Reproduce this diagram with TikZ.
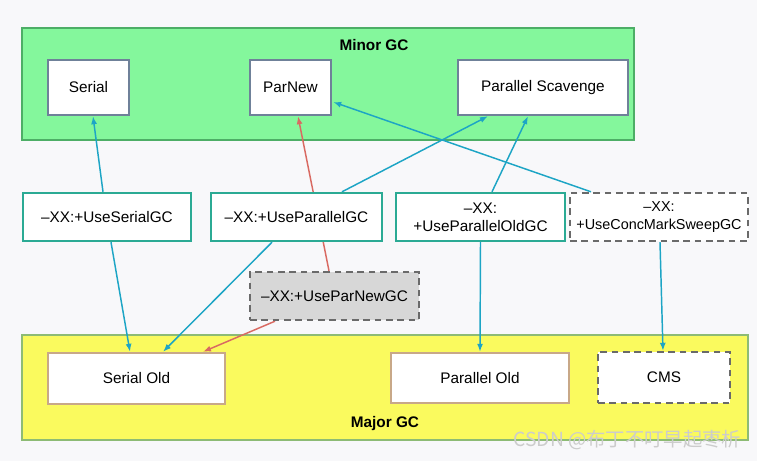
\documentclass[tikz,border=0pt]{standalone}
\usepackage{fontspec}
\setmainfont{Liberation Sans}
\newfontfamily\cjk{Noto Sans CJK SC}
\usetikzlibrary{arrows.meta,fit,calc}
\definecolor{bgc}{HTML}{F8F8FA}
\definecolor{minorfill}{HTML}{84F79C}
\definecolor{minorline}{HTML}{4DAE66}
\definecolor{majorfill}{HTML}{FAFA5E}
\definecolor{majorline}{HTML}{8DBB74}
\definecolor{topline}{HTML}{6F8199}
\definecolor{optline}{HTML}{2BAA94}
\definecolor{botline}{HTML}{C8A888}
\definecolor{dashline}{HTML}{6A6A6A}
\definecolor{pnfill}{HTML}{D7D7D7}
\definecolor{arrblue}{HTML}{1DA5C5}
\definecolor{arrred}{HTML}{D96A62}
\pgfdeclarelayer{bg}
\pgfdeclarelayer{edges}
\pgfsetlayers{bg,edges,main}
\tikzset{
  every node/.style={font=\fontsize{11.5}{13.5}\selectfont},
  region/.style={inner sep=0pt, line width=2.2pt},
  gcbox/.style={fill=white, inner sep=0pt, line width=1.8pt, align=center},
  topbox/.style={gcbox, draw=topline},
  optbox/.style={gcbox, draw=optline},
  botbox/.style={gcbox, draw=botline},
  dashbox/.style={gcbox, draw=dashline, dash pattern=on 5pt off 3.5pt},
  bluearr/.style={draw=arrblue, line width=1.1pt, -{Latex[length=6pt,width=4.5pt]}},
  redarr/.style={draw=arrred, line width=1.1pt, -{Latex[length=6pt,width=4.5pt]}},
  title/.style={font=\fontsize{11.5}{13.5}\selectfont\bfseries}
}
\begin{document}
\begin{tikzpicture}[x=0.75pt,y=-0.75pt]
\begin{pgfonlayer}{bg}
\fill[bgc] (0,0) rectangle (757,461);
\useasboundingbox (0,0) rectangle (757,461);
\node[region, fill=minorfill, draw=minorline, fit={(22,28) (634,140)}] (minor) {};
\node[region, fill=majorfill, draw=majorline, line width=1.8pt, fit={(22,335) (748,440)}] (major) {};
\end{pgfonlayer}
\node[title] (minorlbl) at (374,45) {Minor GC};
\node[title] (majorlbl) at (385,424) {Major GC};

\node[topbox, fit={(48,60) (129,115)}, label=center:Serial] (serial) {};
\node[topbox, fit={(250,60) (331,115)}, label=center:ParNew] (parnew) {};
\node[topbox, fit={(458,60) (628,115)}, label=center:Parallel Scavenge] (ps) {};

\node[optbox, fit={(23,193) (191,241)}, label=center:{–XX:+UseSerialGC}] (sgc) {};
\node[optbox, fit={(211,193) (382,241)}, label=center:{–XX:+UseParallelGC}] (pgc) {};
\node[optbox, fit={(396,193) (565,241)}, label={[align=center]center:{–XX:\\+UseParallelOldGC}}] (pogc) {};
\node[dashbox, fit={(570,193) (748,241)}, label={[align=center,font=\fontsize{10.8}{13.5}\selectfont]center:{–XX:\\+UseConcMarkSweepGC}}] (cmsgc) {};
\node[dashbox, fill=pnfill, fit={(250,272) (419,320)}, label=center:{–XX:+UseParNewGC}] (pngc) {};

\node[botbox, fit={(48,353) (225,404)}, label=center:Serial Old] (serialold) {};
\node[botbox, fit={(391,353) (569,403)}, label=center:Parallel Old] (parold) {};
\node[dashbox, fit={(598,352) (730,403)}, label=center:CMS] (cms) {};

\begin{pgfonlayer}{edges}
\draw[bluearr] ($(sgc.north)+(-4,0)$) -- ($(serial.south)+(4.5,0)$);
\draw[bluearr] ($(sgc.south)+(4,0)$) -- ($(serialold.north)+(-6.5,0)$);
\draw[bluearr] ($(pgc.north)+(45.5,0)$) -- ($(ps.south)+(-55,0)$);
\draw[bluearr] ($(pgc.south)+(-24.5,0)$) -- ($(serialold.north)+(26.5,0)$);
\draw[redarr] ($(pngc.north)+(-5.5,0)$) -- ($(parnew.south)+(7.5,0)$);
\draw[redarr] ($(pngc.south)+(-59.5,0)$) -- ($(serialold.north)+(66.5,0)$);
\draw[bluearr] ($(pogc.north)+(11.5,0)$) -- ($(ps.south)+(-15,0)$);
\draw[bluearr] (pogc.south) -- (parold.north);
\draw[bluearr] ($(cmsgc.north)+(-68,0)$) -- ($(parnew.east)+(1,14.5)$);
\draw[bluearr] ($(cmsgc.south)+(1,0)$) -- ($(cms.north)+(-1,0)$);
\end{pgfonlayer}

\node[text=gray!40, font=\cjk\fontsize{14.5}{16}\selectfont, anchor=east] (wm) at (746,440) {CSDN @布丁不叮早起枣析};
\end{tikzpicture}
\end{document}
